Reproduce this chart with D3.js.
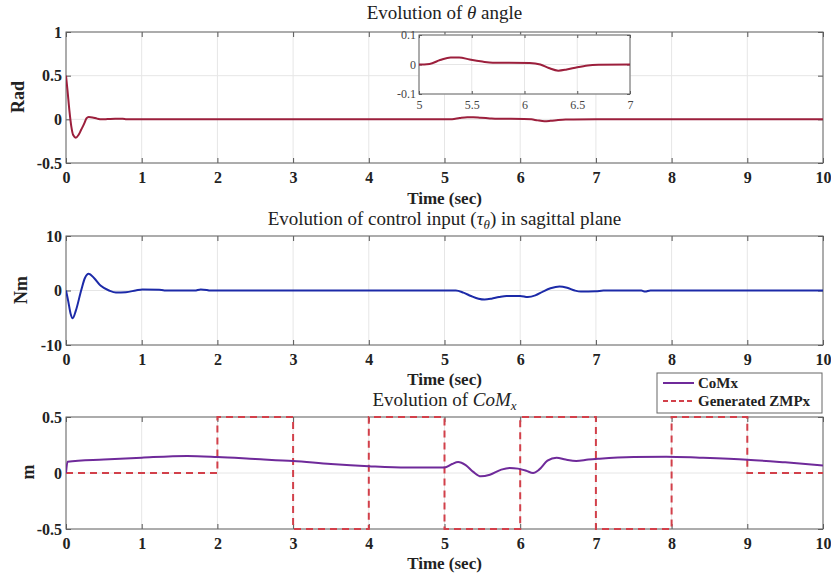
<!DOCTYPE html>
<html>
<head>
<meta charset="utf-8">
<script src="https://cdn.jsdelivr.net/npm/d3@7"></script>
<style>
  body { margin: 0; background: #fff; }
  svg { display: block; }
</style>
</head>
<body>
<div id="chart"></div>
<script>
// time axis ticks (shared)
const timeTicks = [0, 1, 2, 3, 4, 5, 6, 7, 8, 9, 10];

// theta angle (rad)
const thetaT = [0, 0.02, 0.045, 0.07, 0.095, 0.13, 0.165, 0.2, 0.24, 0.27, 0.3, 0.35, 0.41, 0.47, 0.55, 0.65, 0.75, 0.8,
  5.0, 5.1, 5.2, 5.3, 5.38, 5.48, 5.6, 5.7, 6.05, 6.15, 6.23, 6.32, 6.4, 6.5, 6.6, 6.7, 7.0, 10];
const thetaV = [0.5, 0.33, 0.1, -0.08, -0.18, -0.21, -0.18, -0.12, -0.05, 0.01, 0.027, 0.022, 0.008, 0.0, 0.003, 0.007, 0.006, 0.0,
  0.0, 0.002, 0.015, 0.024, 0.024, 0.017, 0.01, 0.006, 0.005, 0.0, -0.012, -0.021, -0.017, -0.009, -0.003, -0.001, 0.0, 0.0];
const thetaTicks = [-0.5, 0, 0.5, 1];
const insetXTicks = [5, 5.5, 6, 6.5, 7];
const insetYTicks = [-0.1, 0, 0.1];

// control input tau (Nm)
const tauT = [0, 0.03, 0.06, 0.088, 0.13, 0.2, 0.25, 0.3, 0.37, 0.46, 0.57, 0.66, 0.79, 0.92, 1.01, 1.23, 1.3, 1.7, 1.78, 1.86, 1.9,
  5.15, 5.25, 5.35, 5.45, 5.53, 5.62, 5.72, 5.82, 6.0, 6.1, 6.2, 6.3, 6.4, 6.52, 6.62, 6.72, 6.8, 7.0, 7.1, 7.6, 7.65, 7.72, 10];
const tauV = [0, -2.0, -4.2, -5.08, -3.7, 0.0, 2.3, 3.06, 2.3, 0.85, 0.0, -0.37, -0.3, 0.0, 0.2, 0.15, 0.0, 0.0, 0.2, 0.1, 0.0,
  0.0, -0.4, -1.0, -1.5, -1.65, -1.5, -1.2, -1.0, -1.0, -1.2, -0.9, -0.2, 0.4, 0.75, 0.5, 0.0, -0.2, -0.15, 0.0, 0.0, -0.2, 0.0, 0.0];
const tauTicks = [-10, 0, 10];

// CoMx (m)
const comT = [0, 0.02, 0.5, 1, 1.6, 2, 2.5, 3, 3.5, 4, 4.5, 5, 5.1, 5.18, 5.28, 5.38, 5.48, 5.6, 5.75, 5.86, 5.97, 6.08, 6.17, 6.25,
  6.36, 6.48, 6.6, 6.74, 6.9, 7.05, 7.5, 7.93, 8.37, 9, 9.5, 10];
const comV = [0.0, 0.1, 0.12, 0.137, 0.152, 0.143, 0.125, 0.107, 0.08, 0.06, 0.048, 0.048, 0.08, 0.098, 0.07, 0.01, -0.03, -0.015,
  0.03, 0.045, 0.039, 0.02, 0.0, 0.03, 0.11, 0.137, 0.12, 0.107, 0.12, 0.128, 0.143, 0.146, 0.137, 0.119, 0.095, 0.068];
// generated ZMPx (step at each time)
const zmpT = [0, 2, 3, 4, 5, 6, 7, 8, 9, 10];
const zmpV = [0, 0.5, -0.5, 0.5, -0.5, 0.5, -0.5, 0.5, 0, 0];
const comTicks = [-0.5, 0, 0.5];

const serif = 'Liberation Serif';

const svg = d3.select('#chart').append('svg')
  .attr('width', 831)
  .attr('height', 581);

const left = 66, right = 823;

function drawPanel(o) {
  const x = d3.scaleLinear().domain(o.xDomain).range([o.x0, o.x1]);
  const y = d3.scaleLinear().domain(o.yDomain).range([o.y1, o.y0]);
  const g = svg.append('g');
  const fs = o.fontSize || 16;

  if (o.fill) {
    g.append('rect').attr('x', o.x0).attr('y', o.y0)
      .attr('width', o.x1 - o.x0).attr('height', o.y1 - o.y0).attr('fill', '#fff');
  }

  // grid
  g.append('g').selectAll('line').data(o.xTicks).join('line')
    .attr('x1', d => x(d)).attr('x2', d => x(d)).attr('y1', o.y0).attr('y2', o.y1)
    .attr('stroke', '#e6e6e6').attr('stroke-width', 1);
  g.append('g').selectAll('line').data(o.yTicks).join('line')
    .attr('x1', o.x0).attr('x2', o.x1).attr('y1', d => y(d)).attr('y2', d => y(d))
    .attr('stroke', '#e6e6e6').attr('stroke-width', 1);

  const ts = o.tickLen || 5;
  const fmt = d => String(d);
  const axB = g.append('g').attr('transform', `translate(0,${o.y1})`)
    .call(d3.axisBottom(x).tickValues(o.xTicks).tickFormat(fmt).tickSizeInner(-ts).tickSizeOuter(0).tickPadding(o.padX || 9));
  const axT = g.append('g').attr('transform', `translate(0,${o.y0})`)
    .call(d3.axisTop(x).tickValues(o.xTicks).tickSizeInner(-ts).tickSizeOuter(0).tickFormat(''));
  const axL = g.append('g').attr('transform', `translate(${o.x0},0)`)
    .call(d3.axisLeft(y).tickValues(o.yTicks).tickFormat(fmt).tickSizeInner(-ts).tickSizeOuter(0).tickPadding(o.padY || 4));
  const axR = g.append('g').attr('transform', `translate(${o.x1},0)`)
    .call(d3.axisRight(y).tickValues(o.yTicks).tickSizeInner(-ts).tickSizeOuter(0).tickFormat(''));
  [axB, axT, axL, axR].forEach(a => {
    a.select('.domain').remove();
    a.selectAll('.tick line').attr('stroke', '#555');
    a.attr('font-family', serif).attr('font-size', fs);
  });
  [axB, axL].forEach(a => a.selectAll('.tick text')
    .attr('font-weight', o.bold === false ? 'normal' : 'bold')
    .attr('fill', o.tickColor || '#222'));

  // box
  g.append('rect').attr('x', o.x0).attr('y', o.y0)
    .attr('width', o.x1 - o.x0).attr('height', o.y1 - o.y0)
    .attr('fill', 'none').attr('stroke', '#666').attr('stroke-width', 1);

  const clipId = 'clip' + Math.round(o.x0) + '_' + Math.round(o.y0);
  g.append('clipPath').attr('id', clipId).append('rect')
    .attr('x', o.x0).attr('y', o.y0 - 2).attr('width', o.x1 - o.x0).attr('height', o.y1 - o.y0 + 4);

  o.series.forEach(s => {
    const pts = s.t.map((t, i) => [t, s.v[i]]);
    const line = d3.line().x(d => x(d[0])).y(d => y(d[1])).curve(s.curve || d3.curveMonotoneX);
    g.append('path').datum(pts)
      .attr('clip-path', `url(#${clipId})`)
      .attr('d', line)
      .attr('fill', 'none')
      .attr('stroke', s.color)
      .attr('stroke-width', s.width || 2)
      .attr('stroke-dasharray', s.dash || null);
  });
  return { x, y, g };
}

// ---- panel 1: theta
drawPanel({
  x0: left, x1: right, y0: 32, y1: 163,
  xDomain: [0, 10], yDomain: [-0.5, 1], xTicks: timeTicks, yTicks: thetaTicks,
  series: [{ t: thetaT, v: thetaV, color: '#9c1f3c' }]
});
// inset
drawPanel({
  x0: 419, x1: 630, y0: 35, y1: 94, fill: true,
  xDomain: [5, 7], yDomain: [-0.1, 0.1], xTicks: insetXTicks, yTicks: insetYTicks,
  fontSize: 12, bold: false, tickColor: '#444', tickLen: 3, padX: 6, padY: 3,
  series: [{ t: thetaT, v: thetaV, color: '#9c1f3c' }]
});

// ---- panel 2: tau
drawPanel({
  x0: left, x1: right, y0: 236, y1: 345,
  xDomain: [0, 10], yDomain: [-10, 10], xTicks: timeTicks, yTicks: tauTicks,
  series: [{ t: tauT, v: tauV, color: '#1c2aa8' }]
});

// ---- panel 3: CoMx
drawPanel({
  x0: left, x1: right, y0: 417, y1: 529,
  xDomain: [0, 10], yDomain: [-0.5, 0.5], xTicks: timeTicks, yTicks: comTicks,
  series: [
    { t: zmpT, v: zmpV, color: '#d2404a', dash: '7,5', curve: d3.curveStepAfter },
    { t: comT, v: comV, color: '#6f2a9a' }
  ]
});

// titles
const cx = (left + right) / 2;
function title(yy) {
  return svg.append('text').attr('x', cx).attr('y', yy).attr('text-anchor', 'middle')
    .attr('font-family', serif).attr('font-size', 19).attr('fill', '#222');
}
const t1 = title(19);
t1.append('tspan').text('Evolution of ');
t1.append('tspan').attr('font-style', 'italic').text('θ');
t1.append('tspan').text(' angle');

const t2 = title(225);
t2.append('tspan').text('Evolution of control input (');
t2.append('tspan').attr('font-style', 'italic').text('τ');
t2.append('tspan').attr('font-style', 'italic').attr('font-size', 13).attr('dy', 4).text('θ');
t2.append('tspan').attr('dy', -4).text(') in sagittal plane');

const t3 = title(406);
t3.append('tspan').text('Evolution of ');
t3.append('tspan').attr('font-style', 'italic').text('CoM');
t3.append('tspan').attr('font-style', 'italic').attr('font-size', 13).attr('dy', 4).text('x');

// x labels
[204, 385, 569].forEach(yy => {
  svg.append('text').attr('x', cx).attr('y', yy).attr('text-anchor', 'middle')
    .attr('font-family', serif).attr('font-weight', 'bold').attr('font-size', 17).attr('fill', '#222')
    .text('Time (sec)');
});

// y labels
[['Rad', 97, 24], ['Nm', 290, 27], ['m', 472, 34]].forEach(([s, yy, xx]) => {
  svg.append('text')
    .attr('transform', `translate(${xx},${yy}) rotate(-90)`)
    .attr('text-anchor', 'middle')
    .attr('font-family', serif).attr('font-weight', 'bold').attr('font-size', 18).attr('fill', '#222')
    .text(s);
});

// legend
const lg = svg.append('g');
lg.append('rect').attr('x', 657).attr('y', 373).attr('width', 165).attr('height', 40)
  .attr('fill', '#fff').attr('stroke', '#666').attr('stroke-width', 1);
const legendItems = [
  { name: 'CoMx', color: '#6f2a9a', dash: null, y: 383 },
  { name: 'Generated ZMPx', color: '#d2404a', dash: '5,3', y: 401 }
];
legendItems.forEach(d => {
  lg.append('line').attr('x1', 663).attr('x2', 694).attr('y1', d.y).attr('y2', d.y)
    .attr('stroke', d.color).attr('stroke-width', 2).attr('stroke-dasharray', d.dash);
  lg.append('text').attr('x', 698).attr('y', d.y + 5)
    .attr('font-family', serif).attr('font-weight', 'bold').attr('font-size', 15).attr('fill', '#222')
    .text(d.name);
});
</script>
</body>
</html>
